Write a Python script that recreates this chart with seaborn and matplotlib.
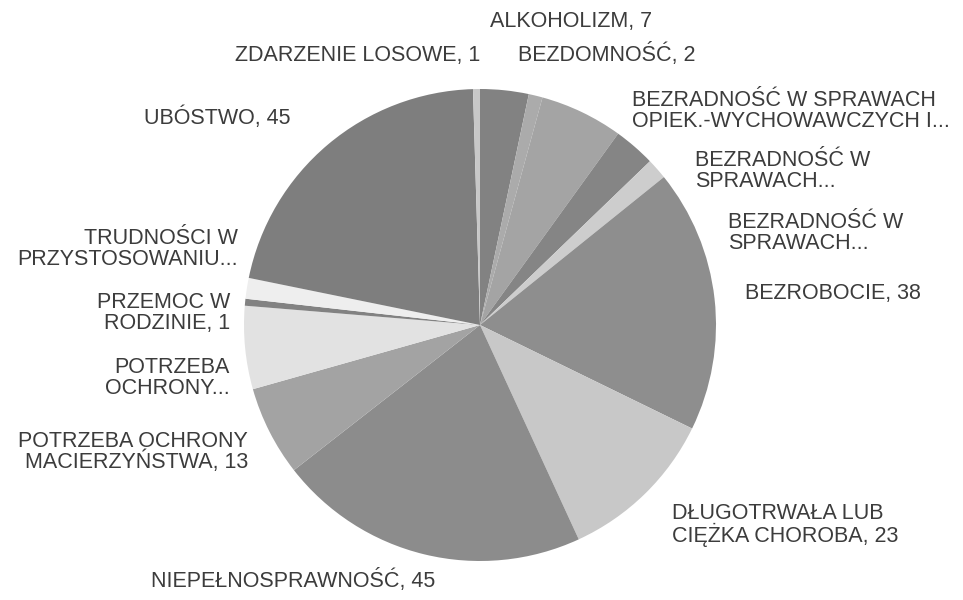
import matplotlib
matplotlib.use("Agg")
import matplotlib.pyplot as plt
import seaborn as sns

# data (clockwise from 12 o'clock)
categories = [
    "ALKOHOLIZM, 7",
    "BEZDOMNOŚĆ, 2",
    "BEZRADNOŚĆ W SPRAWACH\nOPIEK.-WYCHOWAWCZYCH I...",
    "BEZRADNOŚĆ W\nSPRAWACH...",
    "BEZRADNOŚĆ W\nSPRAWACH...",
    "BEZROBOCIE, 38",
    "DŁUGOTRWAŁA LUB\nCIĘŻKA CHOROBA, 23",
    "NIEPEŁNOSPRAWNOŚĆ, 45",
    "POTRZEBA OCHRONY\nMACIERZYŃSTWA, 13",
    "POTRZEBA\nOCHRONY...",
    "PRZEMOC W\nRODZINIE, 1",
    "TRUDNOŚCI W\nPRZYSTOSOWANIU...",
    "UBÓSTWO, 45",
    "ZDARZENIE LOSOWE, 1",
]
values = [7, 2, 12, 6, 3, 38, 23, 45, 13, 12, 1, 3, 45, 1]

# grey shades of the slices
colors = ["#828282", "#ababab", "#a4a4a4", "#858585", "#cdcdcd", "#8e8e8e",
          "#c8c8c8", "#8c8c8c", "#a3a3a3", "#e2e2e2", "#828282", "#eeeeee",
          "#7e7e7e", "#c8c8c8"]

# label anchor in pixels (x, y from top) and alignment
label_pos = [(571, 22, "center"), (518, 55, "left"), (632, 111, "left"),
             (695, 171, "left"), (728, 233, "left"), (745, 294, "left"),
             (672, 525, "left"), (293, 580, "center"), (248, 452, "right"),
             (230, 378, "right"), (230, 313, "right"), (238, 249, "right"),
             (290, 118, "right"), (480, 55, "right")]

sns.set_theme(style="white")
plt.rcParams["font.family"] = ["Liberation Sans", "DejaVu Sans"]

W, H = 963, 600
fig = plt.figure(figsize=(W / 100, H / 100), dpi=100)
fig.patch.set_facecolor("white")

cx, cy, r = 480, 325, 236
ax = fig.add_axes([(cx - r) / W, (H - cy - r) / H, 2 * r / W, 2 * r / H])
ax.pie(values, colors=colors, startangle=90, counterclock=False, radius=1,
       wedgeprops=dict(linewidth=0))
ax.set_xlim(-1, 1)
ax.set_ylim(-1, 1)
ax.set_aspect("equal")
ax.axis("off")

for text, (x, y, ha) in zip(categories, label_pos):
    fig.text(x / W, 1 - y / H, text, ha=ha, va="center", multialignment=ha,
             fontsize=15.5, color="#3c3c3c", linespacing=0.95)

fig.savefig("out.png", dpi=100, facecolor="white")
